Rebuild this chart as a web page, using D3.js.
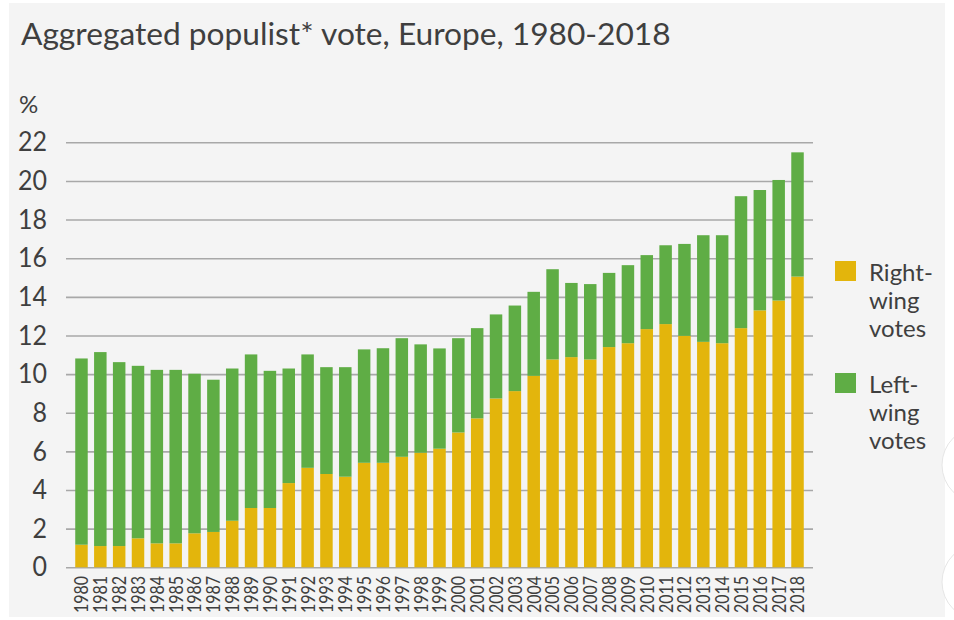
<!DOCTYPE html>
<html>
<head>
<meta charset="utf-8">
<script src="https://cdn.jsdelivr.net/npm/d3@7"></script>
<style>
  body { margin: 0; background: #fff; }
  text { font-family: Lato, "Open Sans", sans-serif; fill: #3f3f3f; }
</style>
</head>
<body>
<div id="chart"></div>
<script>
// data
var years = ["1980","1981","1982","1983","1984","1985","1986","1987","1988","1989",
             "1990","1991","1992","1993","1994","1995","1996","1997","1998","1999",
             "2000","2001","2002","2003","2004","2005","2006","2007","2008","2009",
             "2010","2011","2012","2013","2014","2015","2016","2017","2018"]
var right_wing = [1.17, 1.10, 1.10, 1.50, 1.24, 1.24, 1.76, 1.83, 2.41, 3.07,
                  3.07, 4.36, 5.15, 4.83, 4.69, 5.41, 5.41, 5.72, 5.93, 6.14,
                  6.98, 7.71, 8.74, 9.12, 9.91, 10.76, 10.88, 10.76, 11.40, 11.60,
                  12.33, 12.59, 11.98, 11.67, 11.60, 12.38, 13.30, 13.81, 15.05]
var left_wing = [9.64, 10.04, 9.52, 8.93, 8.98, 8.98, 8.26, 7.88, 7.88, 7.95,
                 7.10, 5.93, 5.87, 5.53, 5.67, 5.87, 5.93, 6.14, 5.61, 5.19,
                 4.88, 4.67, 4.35, 4.43, 4.35, 4.67, 3.84, 3.90, 3.84, 4.04,
                 3.83, 4.08, 4.76, 5.52, 5.59, 6.83, 6.23, 6.24, 6.43]
var y_ticks = [0, 2, 4, 6, 8, 10, 12, 14, 16, 18, 20, 22]
var series_names = ["Right-wing votes", "Left-wing votes"]
var series_keys = ["right", "left"]
var series_colors = ["#e3b50c", "#5fad45"]

var width = 954, height = 620

var svg = d3.select("#chart")
  .append("svg")
    .attr("width", width)
    .attr("height", height)

// grey panel
svg.append("rect")
    .attr("x", 9).attr("y", 3)
    .attr("width", 936).attr("height", 614)
    .attr("fill", "#f4f4f4")

// page controls peeking in on the right
svg.selectAll(".knob")
  .data([465, 582])
  .enter()
  .append("circle")
    .attr("cx", 980).attr("cy", function (d) { return d })
    .attr("r", 38)
    .attr("fill", "#fff")
    .attr("stroke", "#e6e6e6")

svg.append("text")
    .attr("x", 21).attr("y", 45)
    .style("font-size", "31.7px")
    .text("Aggregated populist* vote, Europe, 1980-2018")

var rows = years.map(function (yr, i) {
  return { year: yr, right: right_wing[i], left: left_wing[i] }
})

var x = d3.scaleBand()
  .domain(years)
  .range([66, 813])
  .paddingInner(0.337)
  .paddingOuter(0.49)

var y = d3.scaleLinear()
  .domain([0, 22])
  .range([567.3, 142.3])

// gridlines + tick labels
var yAxis = svg.append("g")
    .attr("transform", "translate(66,0)")
    .call(d3.axisLeft(y).tickValues(y_ticks).tickSize(-(813 - 66)).tickPadding(19))
yAxis.select(".domain").remove()
yAxis.selectAll(".tick line").attr("stroke", "#a8a8a8").attr("stroke-width", 1.6)
yAxis.selectAll(".tick text")
    .style("font-size", "25px")
    .style("font-family", "Lato, sans-serif")
    .attr("fill", "#3f3f3f")
    .attr("transform", "scale(1,1.08)")

svg.append("text")
    .attr("x", 19).attr("y", 113)
    .style("font-size", "24px")
    .text("%")

// stacked bars
var stack = d3.stack().keys(series_keys)(rows)
var color = d3.scaleOrdinal().domain(series_keys).range(series_colors)

svg.append("g")
  .selectAll("g")
  .data(stack)
  .enter()
  .append("g")
    .attr("fill", function (d) { return color(d.key) })
  .selectAll("rect")
  .data(function (d) { return d })
  .enter()
  .append("rect")
    .attr("x", function (d) { return x(d.data.year) })
    .attr("y", function (d) { return y(d[1]) })
    .attr("height", function (d) { return y(d[0]) - y(d[1]) })
    .attr("width", x.bandwidth())

// year labels, rotated
svg.append("g")
  .selectAll("text")
  .data(years)
  .enter()
  .append("text")
    .attr("transform", function (d) {
      return "translate(" + (x(d) + x.bandwidth() / 2) + ",576) rotate(-90) scale(1,1.2)"
    })
    .attr("text-anchor", "end")
    .attr("dy", "0.36em")
    .style("font-size", "16px")
    .attr("fill", "#404252")
    .text(function (d) { return d })

// legend
var legend = svg.append("g")
  .selectAll("g")
  .data(series_names)
  .enter()
  .append("g")
    .attr("transform", function (d, i) { return "translate(835," + (261 + i * 112) + ")" })

legend.append("rect")
    .attr("width", 21).attr("height", 20)
    .attr("fill", function (d, i) { return series_colors[i] })

legend.append("text")
    .attr("x", 34)
    .attr("y", 20)
    .style("font-size", "24px")
  .selectAll("tspan")
  .data(function (d) { var p = d.split("-"); return [p[0] + "-"].concat(p[1].split(" ")) })
  .enter()
  .append("tspan")
    .attr("x", 34)
    .attr("dy", function (d, i) { return i ? 28 : 0 })
    .text(function (d) { return d })
</script>
</body>
</html>
